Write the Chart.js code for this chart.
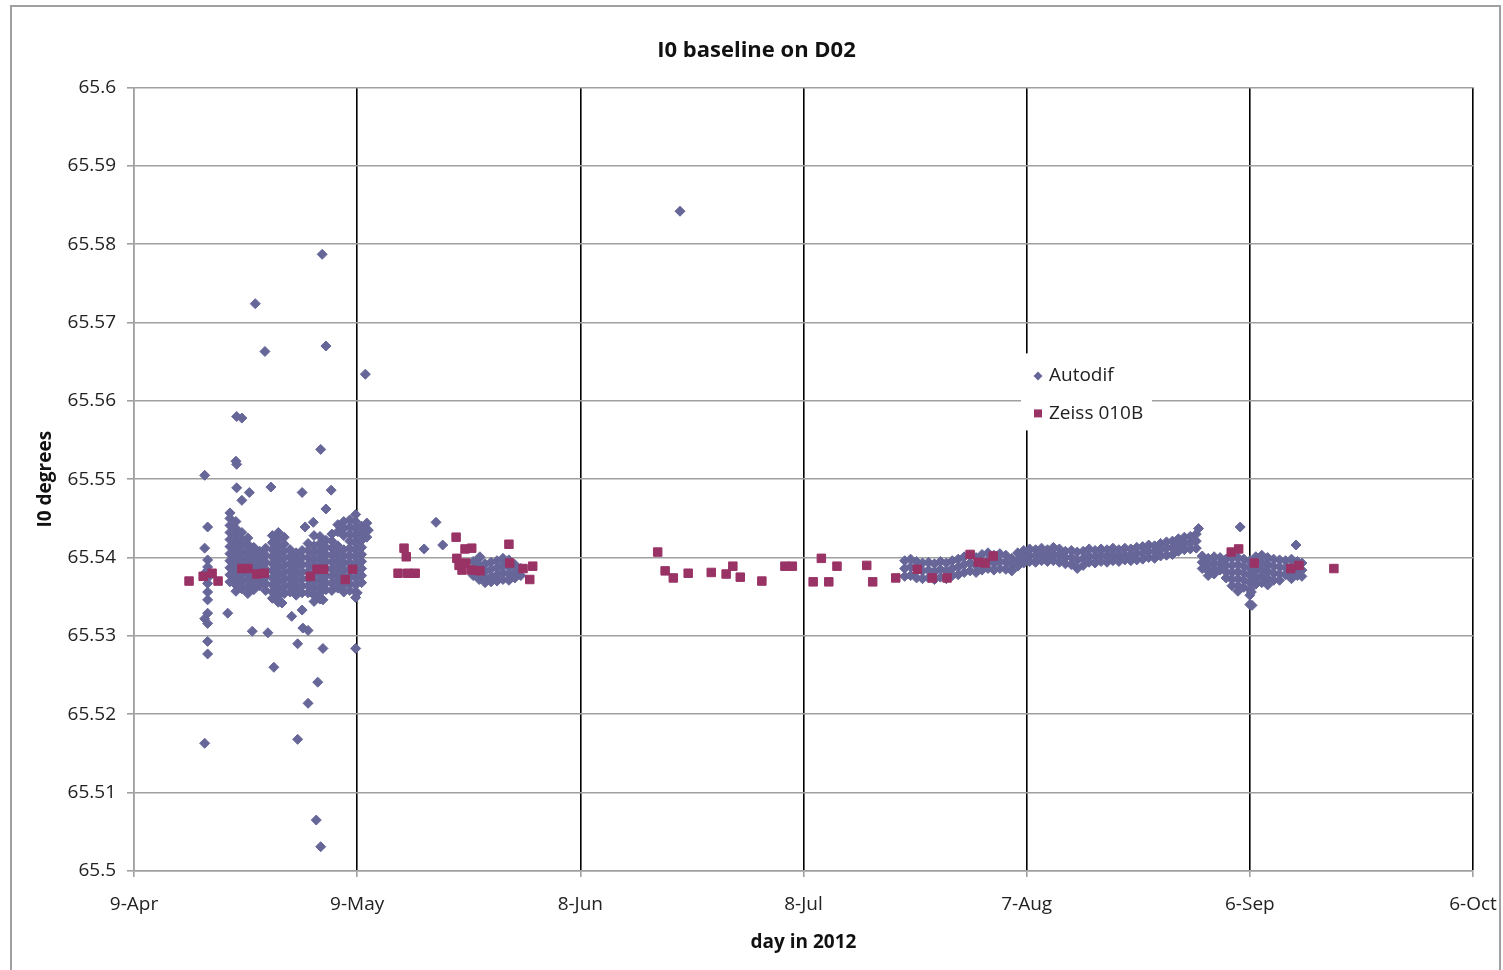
<!DOCTYPE html>
<html lang="en">
<head>
    <meta charset="UTF-8">
    <title>I0 baseline on D02</title>
    <style>
        body {
            margin: 0;
            padding: 0;
            background-color: #fff;
        }

        .chart-wrap {
            width: 1503px;
            height: 970px;
        }
    </style>
</head>
<body>
    <div class="chart-wrap">
        <canvas id="baselineChart" width="1503" height="970"></canvas>
    </div>

    <script src="https://cdn.jsdelivr.net/npm/chart.js"></script>
    <script>
        // x values are days after 9-Apr 2012, y values are I0 in degrees
        const xTickLabels = ['9-Apr', '9-May', '8-Jun', '8-Jul', '7-Aug', '6-Sep', '6-Oct'];
        const yTickLabels = ['65.5', '65.51', '65.52', '65.53', '65.54', '65.55', '65.56', '65.57', '65.58', '65.59', '65.6'];

        // Autodif, dense runs: one day per entry, several readings each
        const autodifAprDays = [12.9, 13.7, 14.5, 15.3, 16.1, 16.9, 17.7, 18.6, 19.4, 20.2, 21.0, 21.8,
            22.6, 23.4, 24.2, 25.0, 25.8, 26.6, 27.4, 28.2, 29.0, 29.8, 30.6, 31.3];
        const autodifAprValues = [
            [65.5450, 65.5441, 65.5432, 65.5423, 65.5414, 65.5405, 65.5396, 65.5387, 65.5378, 65.5369],
            [65.5446, 65.5437, 65.5428, 65.5419, 65.5410, 65.5401, 65.5392, 65.5383, 65.5374, 65.5365, 65.5357],
            [65.5432, 65.5423, 65.5414, 65.5405, 65.5396, 65.5387, 65.5378, 65.5369, 65.5360],
            [65.5425, 65.5417, 65.5408, 65.5399, 65.5390, 65.5381, 65.5372, 65.5363, 65.5354],
            [65.5413, 65.5404, 65.5395, 65.5386, 65.5377, 65.5368, 65.5359],
            [65.5408, 65.5399, 65.5390, 65.5381, 65.5372, 65.5364],
            [65.5412, 65.5403, 65.5394, 65.5385, 65.5376, 65.5367, 65.5358],
            [65.5428, 65.5419, 65.5410, 65.5401, 65.5392, 65.5383, 65.5374, 65.5365, 65.5356, 65.5348],
            [65.5432, 65.5423, 65.5414, 65.5405, 65.5396, 65.5387, 65.5378, 65.5369, 65.5360, 65.5351, 65.5343],
            [65.5426, 65.5417, 65.5408, 65.5399, 65.5390, 65.5381, 65.5372, 65.5363, 65.5354],
            [65.5410, 65.5401, 65.5392, 65.5383, 65.5374, 65.5365, 65.5356],
            [65.5406, 65.5397, 65.5388, 65.5379, 65.5370, 65.5361, 65.5352],
            [65.5409, 65.5400, 65.5391, 65.5382, 65.5373, 65.5364, 65.5355],
            [65.5418, 65.5409, 65.5400, 65.5391, 65.5382, 65.5373, 65.5364, 65.5355],
            [65.5428, 65.5415, 65.5406, 65.5397, 65.5388, 65.5379, 65.5370, 65.5361, 65.5352, 65.5344],
            [65.5427, 65.5418, 65.5409, 65.5400, 65.5391, 65.5382, 65.5373, 65.5364, 65.5355, 65.5347],
            [65.5422, 65.5413, 65.5404, 65.5395, 65.5386, 65.5377, 65.5368, 65.5359],
            [65.5430, 65.5421, 65.5412, 65.5403, 65.5394, 65.5385, 65.5376, 65.5367, 65.5358],
            [65.5442, 65.5433, 65.5415, 65.5406, 65.5397, 65.5388, 65.5379, 65.5370, 65.5361],
            [65.5446, 65.5437, 65.5428, 65.5410, 65.5401, 65.5392, 65.5383, 65.5374, 65.5365, 65.5356],
            [65.5448, 65.5439, 65.5430, 65.5421, 65.5412, 65.5403, 65.5394, 65.5385, 65.5376, 65.5367, 65.5358],
            [65.5455, 65.5446, 65.5437, 65.5428, 65.5419, 65.5410, 65.5401, 65.5392, 65.5383, 65.5374, 65.5365, 65.5356, 65.5349],
            [65.5440, 65.5431, 65.5422, 65.5413, 65.5404, 65.5395, 65.5386, 65.5377, 65.5368],
            [65.5444, 65.5435, 65.5426]
        ];

        const autodifMayDays = [45.6, 46.4, 47.2, 48.0, 48.8, 49.6, 50.4, 51.2, 52.0];
        const autodifMayValues = [
            [65.5395, 65.5386, 65.5377],
            [65.5399, 65.5390, 65.5381, 65.5372],
            [65.5392, 65.5383, 65.5374, 65.5368],
            [65.5394, 65.5385, 65.5376, 65.5369],
            [65.5396, 65.5387, 65.5378, 65.5370],
            [65.5399, 65.5390, 65.5381, 65.5372],
            [65.5397, 65.5388, 65.5379, 65.5371],
            [65.5391, 65.5382, 65.5374],
            [65.5386, 65.5377]
        ];

        const autodifSummerDays = [103.6, 104.4, 105.2, 106.0, 106.8, 107.6, 108.4, 109.2, 110.0, 110.8,
            111.6, 112.4, 113.2, 114.0, 114.8, 115.6, 116.4, 117.2, 118.0, 118.8,
            119.6, 120.4, 121.2, 122.0, 122.8, 123.6, 124.4, 125.2, 126.0, 126.8,
            127.6, 128.4, 129.2, 130.0, 130.8, 131.6, 132.4, 133.2, 134.0, 134.8,
            135.6, 136.4, 137.2, 138.0, 138.8, 139.6, 140.4, 141.2, 142.0, 142.8,
            143.6, 144.4, 145.2, 146.0, 146.8, 147.6, 148.4, 149.2, 150.0, 150.8,
            151.6, 152.4, 153.2, 154.0, 154.8, 155.6, 156.4, 157.0];
        const autodifSummerValues = [
            [65.5396, 65.5386, 65.5376], [65.5398, 65.5388, 65.5377], [65.5395, 65.5385, 65.5374],
            [65.5393, 65.5383, 65.5373], [65.5394, 65.5384, 65.5374], [65.5392, 65.5382, 65.5372],
            [65.5395, 65.5385, 65.5375], [65.5393, 65.5383, 65.5373], [65.5396, 65.5386, 65.5377],
            [65.5398, 65.5388, 65.5378],
            [65.5401, 65.5391, 65.5381], [65.5403, 65.5393, 65.5383], [65.5400, 65.5390, 65.5381],
            [65.5404, 65.5394, 65.5384], [65.5406, 65.5396, 65.5386], [65.5403, 65.5393, 65.5384],
            [65.5405, 65.5395, 65.5386], [65.5403, 65.5394, 65.5385], [65.5399, 65.5391, 65.5383],
            [65.5406, 65.5397, 65.5389],
            [65.5409, 65.5401, 65.5393], [65.5411, 65.5403, 65.5395], [65.5410, 65.5402, 65.5394],
            [65.5412, 65.5404, 65.5396], [65.5410, 65.5402, 65.5395], [65.5413, 65.5404, 65.5396],
            [65.5411, 65.5403, 65.5394], [65.5408, 65.5400, 65.5392], [65.5409, 65.5400, 65.5391],
            [65.5407, 65.5397, 65.5386],
            [65.5408, 65.5399, 65.5390], [65.5411, 65.5402, 65.5394], [65.5409, 65.5401, 65.5393],
            [65.5411, 65.5403, 65.5395], [65.5410, 65.5402, 65.5394], [65.5412, 65.5404, 65.5396],
            [65.5410, 65.5402, 65.5395], [65.5412, 65.5404, 65.5397], [65.5411, 65.5403, 65.5396],
            [65.5413, 65.5405, 65.5397],
            [65.5414, 65.5406, 65.5398], [65.5416, 65.5408, 65.5400], [65.5415, 65.5407, 65.5399],
            [65.5418, 65.5410, 65.5402], [65.5420, 65.5412, 65.5403], [65.5421, 65.5413, 65.5404],
            [65.5424, 65.5416, 65.5408], [65.5426, 65.5418, 65.5410], [65.5427, 65.5419, 65.5411],
            [65.5430, 65.5421, 65.5412],
            [65.5402, 65.5394, 65.5386], [65.5399, 65.5391, 65.5383, 65.5377], [65.5401, 65.5393, 65.5385, 65.5379],
            [65.5400, 65.5392, 65.5384], [65.5398, 65.5390, 65.5382, 65.5374],
            [65.5399, 65.5390, 65.5381, 65.5372, 65.5364],
            [65.5400, 65.5391, 65.5382, 65.5373, 65.5364, 65.5357],
            [65.5398, 65.5389, 65.5380, 65.5371, 65.5362],
            [65.5396, 65.5387, 65.5378, 65.5369, 65.5360, 65.5352, 65.5340],
            [65.5401, 65.5392, 65.5383, 65.5374, 65.5366],
            [65.5403, 65.5394, 65.5385, 65.5376, 65.5368], [65.5400, 65.5391, 65.5382, 65.5373, 65.5365],
            [65.5398, 65.5389, 65.5380, 65.5371], [65.5397, 65.5388, 65.5379, 65.5371],
            [65.5396, 65.5387, 65.5378], [65.5398, 65.5389, 65.5380, 65.5373],
            [65.5395, 65.5386, 65.5377], [65.5393, 65.5384, 65.5376]
        ];

        // Autodif, scattered single readings
        const autodifSpotDays = [
            9.5, 9.5, 9.5, 9.5, 9.5,
            9.9, 9.9, 9.9, 9.9, 9.9, 9.9, 9.9, 9.9, 9.9, 9.9, 9.9,
            13.8, 14.5, 13.7, 13.8, 13.8, 15.5, 18.4, 22.6, 26.5, 14.5, 25.8,
            25.3, 16.3, 17.6, 25.8, 31.1, 25.1, 24.1, 23.0, 31.5, 12.9,
            12.6, 15.9, 18.0, 19.9, 21.2, 22.6, 22.7, 23.4, 25.4, 30.0,
            22.0, 25.4, 29.8, 18.8, 24.7, 23.4, 22.0, 24.5, 25.1,
            40.6, 39.0, 41.5, 46.5,
            73.4,
            143.1, 148.7, 156.2, 150.3, 150.2
        ];
        const autodifSpotValues = [
            65.5505, 65.5412, 65.5380, 65.5322, 65.5163,
            65.5439, 65.5397, 65.5388, 65.5374, 65.5367, 65.5356, 65.5346, 65.5329, 65.5316, 65.5293, 65.5277,
            65.5580, 65.5578, 65.5523, 65.5519, 65.5489, 65.5483, 65.5490, 65.5483, 65.5486, 65.5473, 65.5462,
            65.5787, 65.5724, 65.5663, 65.5670, 65.5634, 65.5538, 65.5445, 65.5439, 65.5435, 65.5457,
            65.5329, 65.5306, 65.5304, 65.5342, 65.5325, 65.5333, 65.5310, 65.5307, 65.5346, 65.5355,
            65.5290, 65.5284, 65.5284, 65.5260, 65.5241, 65.5214, 65.5168, 65.5065, 65.5031,
            65.5445, 65.5411, 65.5416, 65.5401,
            65.5842,
            65.5437, 65.5439, 65.5416, 65.5339, 65.5356
        ];

        // Zeiss 010B
        const zeissDays = [7.4, 9.3, 10.5, 11.3, 14.5, 15.3, 16.5, 17.5,
            23.7, 24.6, 25.5, 28.4, 29.4,
            35.5, 36.3, 36.6, 36.8, 37.8,
            43.3, 43.4, 43.7, 44.1, 44.5, 44.6, 45.4, 45.4, 46.5,
            50.4, 50.5, 52.3, 53.2, 53.6,
            70.4, 71.4, 72.5, 74.5, 77.6, 79.6, 80.5, 81.5, 84.4,
            87.5, 88.5, 91.3, 92.4, 93.4, 94.5, 98.5, 99.3, 102.4,
            105.3, 107.3, 109.3, 112.4, 113.5, 114.4, 115.5,
            147.5, 148.5, 150.6, 155.5, 156.6, 161.3];
        const zeissValues = [65.5370, 65.5376, 65.5380, 65.5370, 65.5386, 65.5386, 65.5379, 65.5380,
            65.5376, 65.5385, 65.5385, 65.5372, 65.5385,
            65.5380, 65.5412, 65.5401, 65.5380, 65.5380,
            65.5426, 65.5399, 65.5390, 65.5384, 65.5411, 65.5393, 65.5412, 65.5384, 65.5383,
            65.5417, 65.5393, 65.5386, 65.5372, 65.5389,
            65.5407, 65.5383, 65.5374, 65.5380, 65.5381, 65.5379, 65.5389, 65.5375, 65.5370,
            65.5389, 65.5389, 65.5369, 65.5399, 65.5369, 65.5389, 65.5390, 65.5369, 65.5374,
            65.5385, 65.5374, 65.5374, 65.5404, 65.5394, 65.5393, 65.5402,
            65.5407, 65.5411, 65.5393, 65.5386, 65.5390, 65.5386];

        const autodifColor = '#666699';
        const zeissColor = '#993366';
        const textColor = '#222';
        const baseFont = 'Open Sans';

        function columnsToPoints(days, columns) {
            const points = [];
            days.forEach((day, i) => {
                columns[i].forEach(value => points.push({ x: day, y: value }));
            });
            return points;
        }

        function pairsToPoints(days, values) {
            return days.map((day, i) => ({ x: day, y: values[i] }));
        }

        const autodifPoints = [].concat(
            columnsToPoints(autodifAprDays, autodifAprValues),
            columnsToPoints(autodifMayDays, autodifMayValues),
            columnsToPoints(autodifSummerDays, autodifSummerValues),
            pairsToPoints(autodifSpotDays, autodifSpotValues)
        );
        const zeissPoints = pairsToPoints(zeissDays, zeissValues);

        // white page with the grey frame Excel puts round the chart
        const frame = {
            id: 'frame',
            beforeDraw(chart) {
                const ctx = chart.ctx;
                ctx.save();
                ctx.fillStyle = '#fff';
                ctx.fillRect(0, 0, chart.width, chart.height);
                ctx.strokeStyle = '#a0a0a0';
                ctx.lineWidth = 2;
                ctx.strokeRect(11, 6, chart.width - 14, chart.height + 10);
                ctx.restore();
            }
        };

        // legend sits inside the plot, on a white box over the gridlines
        const insideLegend = {
            id: 'insideLegend',
            afterDraw(chart) {
                const { ctx, chartArea } = chart;
                const left = chartArea.left + 887;
                const top = chartArea.top + 266;
                ctx.save();
                ctx.fillStyle = '#fff';
                ctx.fillRect(left, top, 131, 77);

                ctx.fillStyle = autodifColor;
                ctx.beginPath();
                ctx.moveTo(left + 17, top + 18);
                ctx.lineTo(left + 21.5, top + 22.5);
                ctx.lineTo(left + 17, top + 27);
                ctx.lineTo(left + 12.5, top + 22.5);
                ctx.closePath();
                ctx.fill();

                ctx.fillStyle = zeissColor;
                ctx.fillRect(left + 13, top + 56, 8, 8);

                ctx.fillStyle = textColor;
                ctx.font = '19px "' + baseFont + '"';
                ctx.textBaseline = 'middle';
                ctx.fillText('Autodif', left + 28, top + 22);
                ctx.fillText('Zeiss 010B', left + 28, top + 60);
                ctx.restore();
            }
        };

        const chart = new Chart(document.getElementById('baselineChart'), {
            type: 'scatter',
            data: {
                datasets: [{
                    label: 'Zeiss 010B',
                    data: zeissPoints,
                    order: 0,
                    pointStyle: 'rect',
                    pointRadius: 6,
                    backgroundColor: zeissColor,
                    borderColor: zeissColor,
                    borderWidth: 1
                }, {
                    label: 'Autodif',
                    data: autodifPoints,
                    order: 1,
                    pointStyle: 'rectRot',
                    pointRadius: 5,
                    backgroundColor: autodifColor,
                    borderColor: autodifColor,
                    borderWidth: 1
                }]
            },
            options: {
                responsive: false,
                animation: false,
                devicePixelRatio: 1,
                layout: {
                    padding: { left: 10, right: 0, top: 0, bottom: 0 }
                },
                plugins: {
                    legend: { display: false },
                    tooltip: { enabled: false },
                    title: {
                        display: true,
                        text: 'I0 baseline on D02',
                        color: '#111',
                        font: { family: baseFont, size: 22, weight: 'bold' },
                        padding: { top: 38, bottom: 23 }
                    }
                },
                scales: {
                    x: {
                        type: 'linear',
                        min: 0,
                        max: 180,
                        afterFit: scale => {
                            scale.height = 99;
                            scale.paddingLeft = 0;
                            scale.paddingRight = 30;
                        },
                        ticks: {
                            stepSize: 30,
                            padding: 16,
                            color: textColor,
                            font: { family: baseFont, size: 19 },
                            callback: value => xTickLabels[Math.round(value / 30)]
                        },
                        grid: {
                            color: ctx => (ctx.tick && ctx.tick.value === 0) ? '#a0a0a0' : '#000',
                            lineWidth: 1.6,
                            tickLength: 6,
                            tickColor: '#a0a0a0'
                        },
                        border: { color: '#a0a0a0', width: 1.6 },
                        title: {
                            display: true,
                            text: 'day in 2012',
                            color: '#111',
                            font: { family: baseFont, size: 19, weight: 'bold' },
                            padding: { top: 0, bottom: 16 }
                        }
                    },
                    y: {
                        min: 65.5,
                        max: 65.6,
                        afterFit: scale => { scale.width = 124; },
                        ticks: {
                            stepSize: 0.01,
                            padding: 11,
                            color: textColor,
                            font: { family: baseFont, size: 19 },
                            callback: (value, index) => yTickLabels[index]
                        },
                        grid: {
                            color: '#a0a0a0',
                            lineWidth: 1.6,
                            tickLength: 7,
                            tickColor: '#a0a0a0'
                        },
                        border: { color: '#a0a0a0', width: 1.6 },
                        title: {
                            display: true,
                            text: 'I0 degrees',
                            color: '#111',
                            font: { family: baseFont, size: 19, weight: 'bold' },
                            padding: { top: 24, bottom: 0 }
                        }
                    }
                }
            },
            plugins: [frame, insideLegend]
        });
    </script>
</body>
</html>
